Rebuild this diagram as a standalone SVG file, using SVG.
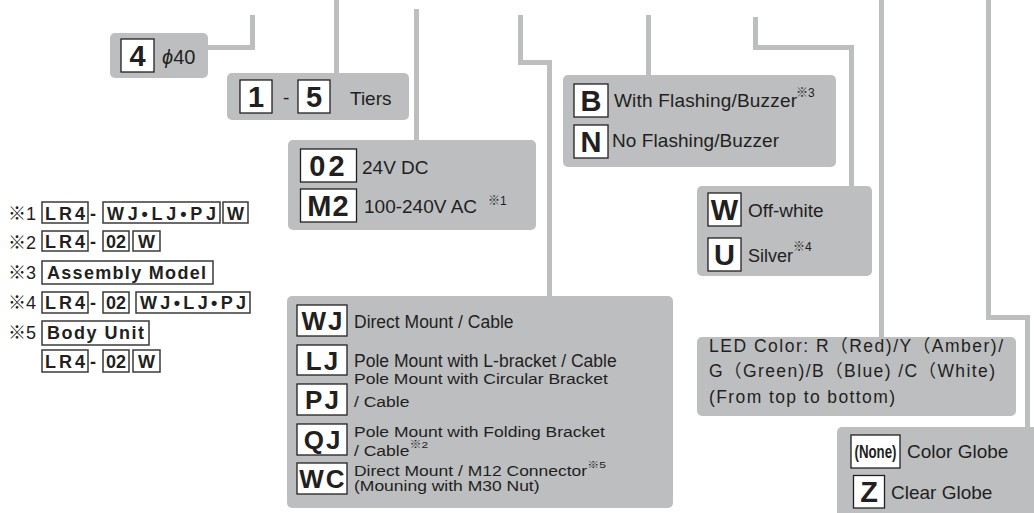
<svg xmlns="http://www.w3.org/2000/svg" width="1034" height="513" viewBox="0 0 1034 513">
<style>
text{font-family:"Liberation Sans",Arial,"Noto Sans CJK JP",sans-serif;fill:#231f20}
.c{fill:none;stroke:#bcbec0;stroke-width:5}
.g{fill:#bcbec0}
.k{fill:#fff;stroke:#231f20;stroke-width:1.3}
.kt{font-weight:bold;font-size:29px;text-anchor:middle}
.kt2{font-weight:bold;font-size:26px;text-anchor:middle;letter-spacing:2px}
.t{font-size:19px}
.m{font-size:17.5px}
.s{font-size:12px}
.n{font-size:18px}
.nb{fill:#fff;stroke:#3a3a3a;stroke-width:1.5}
.nt{font-weight:bold;font-size:18px}
</style>
<rect width="1034" height="513" fill="#fff"/>
<g id="connectors">
<path class="c" d="M252.5 15V47.5H207"/>
<path class="c" d="M336.5 0V75"/>
<path class="c" d="M416.5 9V141"/>
<path class="c" d="M520.5 15V62.5H549.5V297"/>
<path class="c" d="M648.5 15V76"/>
<path class="c" d="M755.5 17V47.5H851.5V187"/>
<path class="c" d="M881.5 0V338"/>
<path class="c" d="M988.5 0V317.5H1027.5V428"/>
</g>
<g id="size">
<rect class="g" x="110" y="33" width="98" height="45" rx="5"/>
<rect class="k" x="121" y="39" width="33" height="33"/>
<text class="kt" x="137.5" y="66">4</text>
<text x="162" y="64" font-size="20"><tspan font-style="italic">ϕ</tspan>40</text>
</g>
<g id="tiers">
<rect class="g" x="227" y="73" width="182" height="47" rx="5"/>
<rect class="k" x="240" y="80" width="32" height="33"/>
<text class="kt" x="256" y="107">1</text>
<text class="t" x="283" y="104">-</text>
<rect class="k" x="298" y="80" width="32" height="33"/>
<text class="kt" x="314" y="107">5</text>
<text class="t" x="350" y="105">Tiers</text>
</g>
<g id="voltage">
<rect class="g" x="288" y="140" width="248" height="90" rx="5"/>
<rect class="k" x="300.5" y="149" width="56" height="33"/>
<text class="kt" x="328.5" y="176" letter-spacing="3">02</text>
<rect class="k" x="300.5" y="189" width="56" height="33"/>
<text class="kt" x="328.5" y="216" letter-spacing="1">M2</text>
<text class="t" x="362" y="174">24V DC</text>
<text class="t" x="364" y="213">100-240V AC</text>
<text class="s" x="488" y="205">※1</text>
</g>
<g id="mount">
<rect class="g" x="287" y="296" width="386" height="212" rx="5"/>
<rect class="k" x="297" y="305" width="50" height="31"/>
<text class="kt2" x="323" y="330">WJ</text>
<rect class="k" x="297" y="345" width="50" height="30"/>
<text class="kt2" x="323" y="369.5">LJ</text>
<rect class="k" x="297" y="384" width="50" height="31"/>
<text class="kt2" x="323" y="409">PJ</text>
<rect class="k" x="297" y="424" width="50" height="31"/>
<text class="kt2" x="323" y="449">QJ</text>
<rect class="k" x="297" y="463" width="50" height="31"/>
<text class="kt2" x="323" y="488">WC</text>
<text class="m" x="354" y="328">Direct Mount / Cable</text>
<text class="m" x="354" y="367">Pole Mount with L-bracket / Cable</text>
<text class="m" transform="translate(354 384) scale(1 0.85)">Pole Mount with Circular Bracket</text>
<text class="m" transform="translate(354 407) scale(1 0.85)">/ Cable</text>
<text class="m" transform="translate(354 437) scale(1 0.82)">Pole Mount with Folding Bracket</text>
<text class="m" transform="translate(354 456) scale(1 0.82)">/ Cable<tspan class="s" dy="-10">※2</tspan></text>
<text class="m" transform="translate(354 476) scale(1 0.8)">Direct Mount / M12 Connector<tspan class="s" dy="-10">※5</tspan></text>
<text class="m" transform="translate(354 491) scale(1 0.8)">(Mouning with M30 Nut)</text>
</g>
<g id="flashing">
<rect class="g" x="563" y="75" width="273" height="92" rx="5"/>
<rect class="k" x="574" y="84" width="34" height="33"/>
<text class="kt" x="591" y="111">B</text>
<rect class="k" x="574" y="125" width="34" height="33"/>
<text class="kt" x="591" y="152">N</text>
<text class="t" x="614" y="107" textLength="183">With Flashing/Buzzer</text>
<text class="s" x="796" y="97">※3</text>
<text class="t" x="612" y="147" textLength="167">No Flashing/Buzzer</text>
</g>
<g id="bodycolor">
<rect class="g" x="697" y="186" width="175" height="90" rx="5"/>
<rect class="k" x="708" y="193" width="33" height="33"/>
<text class="kt" x="724.5" y="220">W</text>
<rect class="k" x="708" y="238" width="33" height="33"/>
<text class="kt" x="724.5" y="265">U</text>
<text class="t" x="748" y="217">Off-white</text>
<text class="n" x="748" y="262">Silver<tspan class="s" dy="-11">※4</tspan></text>
</g>
<g id="ledcolor">
<rect class="g" x="697" y="337" width="319" height="79" rx="5"/>
<text class="m" x="709" y="352" textLength="294" lengthAdjust="spacing">LED Color: R（Red)/Y（Amber)/</text>
<text class="m" x="709" y="377" textLength="286" lengthAdjust="spacing">G（Green)/B（Blue) /C（White)</text>
<text class="m" x="709" y="403" textLength="186" lengthAdjust="spacing">(From top to bottom)</text>
</g>
<g id="globe">
<rect class="g" x="837" y="427" width="210" height="100" rx="5"/>
<rect class="k" x="851" y="435" width="49" height="33"/>
<text transform="translate(875.5 458) scale(0.7 1)" font-weight="bold" font-size="19" text-anchor="middle">(None)</text>
<rect class="k" x="853.5" y="475.5" width="31" height="32.5"/>
<text class="kt" x="869" y="502">Z</text>
<text class="t" x="907" y="458">Color Globe</text>
<text class="t" x="891" y="499">Clear Globe</text>
</g>
<g id="notes">
<text class="n" x="8" y="220">※1</text>
<rect class="nb" x="42" y="202" width="46" height="21"/>
<text class="nt" x="45" y="219.5" textLength="40">LR4</text>
<text class="nt" x="90" y="219.5">-</text>
<rect class="nb" x="103" y="202" width="117" height="21"/>
<text class="nt" x="107" y="219.5" textLength="109">WJ•LJ•PJ</text>
<rect class="nb" x="223" y="202" width="25" height="21"/>
<text class="nt" x="235.5" y="219.5" text-anchor="middle">W</text>

<text class="n" x="8" y="249">※2</text>
<rect class="nb" x="42" y="231" width="46" height="20"/>
<text class="nt" x="45" y="248" textLength="40">LR4</text>
<text class="nt" x="90" y="248">-</text>
<rect class="nb" x="103" y="231" width="26" height="20"/>
<text class="nt" x="116" y="248" text-anchor="middle">02</text>
<rect class="nb" x="133" y="231" width="27" height="20"/>
<text class="nt" x="146.5" y="248" text-anchor="middle">W</text>

<text class="n" x="8" y="279">※3</text>
<rect class="nb" x="42" y="261" width="171" height="23"/>
<text class="nt" x="47" y="279" textLength="159">Assembly Model</text>

<text class="n" x="8" y="309">※4</text>
<rect class="nb" x="42" y="292" width="46" height="21"/>
<text class="nt" x="45" y="309" textLength="40">LR4</text>
<text class="nt" x="90" y="309">-</text>
<rect class="nb" x="103" y="292" width="26" height="21"/>
<text class="nt" x="116" y="309" text-anchor="middle">02</text>
<rect class="nb" x="136" y="292" width="114" height="21"/>
<text class="nt" x="140" y="309" textLength="106">WJ•LJ•PJ</text>

<text class="n" x="8" y="339">※5</text>
<rect class="nb" x="42" y="321" width="107" height="24"/>
<text class="nt" x="47" y="339" textLength="97">Body Unit</text>

<rect class="nb" x="42" y="350" width="46" height="22"/>
<text class="nt" x="45" y="367.5" textLength="40">LR4</text>
<text class="nt" x="90" y="367.5">-</text>
<rect class="nb" x="103" y="350" width="26" height="22"/>
<text class="nt" x="116" y="367.5" text-anchor="middle">02</text>
<rect class="nb" x="133" y="350" width="27" height="22"/>
<text class="nt" x="146.5" y="367.5" text-anchor="middle">W</text>
</g>
</svg>
